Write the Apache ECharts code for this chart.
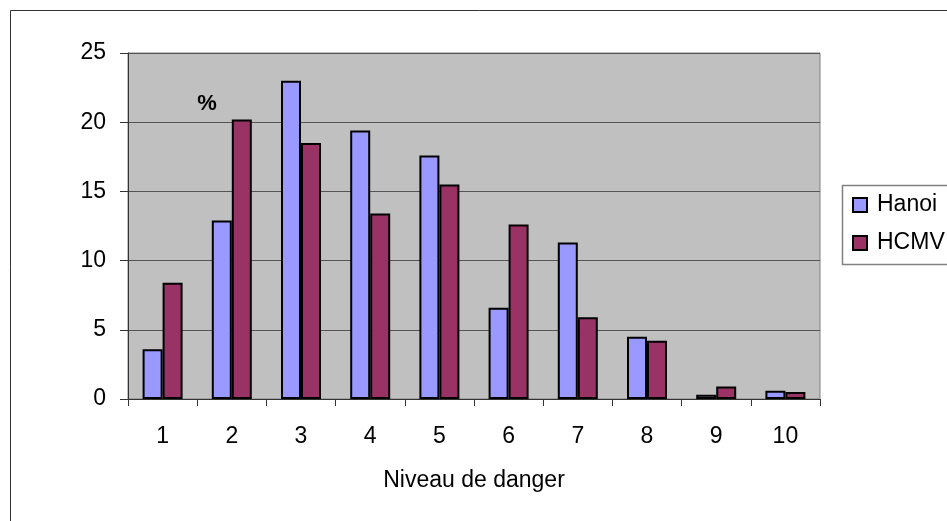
<!DOCTYPE html>
<html>
<head>
<meta charset="utf-8">
<script src="https://cdn.jsdelivr.net/npm/echarts@6/dist/echarts.min.js"></script>
<style>
html,body{margin:0;padding:0;background:#fff;}
#chart{width:947px;height:521px;}
</style>
</head>
<body>
<div id="chart"></div>
<script>
const categories = ['1','2','3','4','5','6','7','8','9','10'];
const hanoi = [3.6, 12.9, 23.0, 19.4, 17.6, 6.6, 11.3, 4.5, 0.3, 0.6];
const hcmv  = [8.4, 20.2, 18.5, 13.4, 15.5, 12.6, 5.9, 4.2, 0.9, 0.5];
const seriesNames = ['Hanoi', 'HCMV'];
const yTicks = [0, 5, 10, 15, 20, 25];

const FONT = "'Liberation Sans', Arial, sans-serif";
const chart = echarts.init(document.getElementById('chart'));
chart.setOption({
  animation: false,
  backgroundColor: '#ffffff',
  textStyle: { fontFamily: FONT },
  grid: {
    left: 128, right: 127, top: 53, bottom: 122,
    show: true, backgroundColor: '#C0C0C0', borderColor: '#808080', borderWidth: 1
  },
  legend: {
    orient: 'vertical',
    left: 852, top: 193,
    padding: 0,
    itemWidth: 14, itemHeight: 14, itemGap: 14,
    icon: 'rect',
    data: seriesNames,
    textStyle: { fontSize: 23, color: '#000', fontFamily: FONT, lineHeight: 24, padding: [0,0,0,5] }
  },
  xAxis: {
    type: 'category',
    data: categories,
    name: 'Niveau de danger',
    nameLocation: 'middle',
    nameGap: 70,
    nameTextStyle: { fontSize: 23, color: '#000', fontFamily: FONT },
    axisLine: { lineStyle: { color: '#333', width: 1 } },
    axisTick: { show: true, length: 7, interval: 0, lineStyle: { color: '#333' } },
    axisLabel: { fontSize: 23, color: '#000', margin: 26, fontFamily: FONT, interval: 0 },
    splitLine: { show: false }
  },
  yAxis: {
    type: 'value',
    min: yTicks[0], max: yTicks[yTicks.length - 1], interval: 5,
    axisLine: { show: true, lineStyle: { color: '#333', width: 1 } },
    axisTick: { show: true, length: 8, lineStyle: { color: '#333' } },
    axisLabel: { fontSize: 23, color: '#000', margin: 22, fontFamily: FONT },
    splitLine: { show: true, lineStyle: { color: '#555', width: 1 } }
  },
  series: [
    {
      name: seriesNames[0], type: 'bar', data: hanoi,
      barWidth: 20, barGap: '0%',
      itemStyle: { color: '#9999FF', borderColor: '#000', borderWidth: 2 }
    },
    {
      name: seriesNames[1], type: 'bar', data: hcmv,
      barWidth: 20, barGap: '0%',
      itemStyle: { color: '#993366', borderColor: '#000', borderWidth: 2 }
    }
  ],
  graphic: [
    { type: 'rect', shape: { x: 10.5, y: 10.5, width: 1200, height: 800 }, style: { fill: 'none', stroke: '#333', lineWidth: 1 }, z: 100 },
    { type: 'rect', shape: { x: 842.5, y: 185.5, width: 200, height: 79 }, style: { fill: 'none', stroke: '#808080', lineWidth: 1.5 }, z: 100 },
    { type: 'text', x: 207, y: 104, style: { text: '%', font: "bold 22px 'Liberation Sans', Arial, sans-serif", fill: '#000', textAlign: 'center', textVerticalAlign: 'middle' }, z: 100 }
  ]
});
</script>
</body>
</html>
